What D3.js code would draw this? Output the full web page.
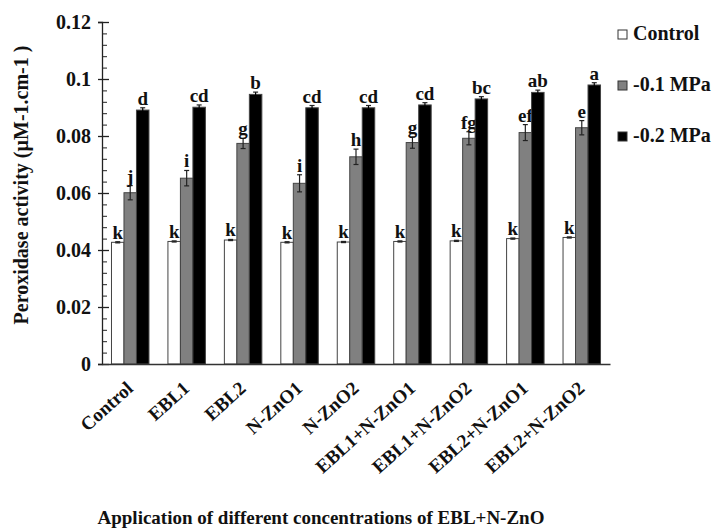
<!DOCTYPE html>
<html>
<head>
<meta charset="utf-8">
<script src="https://cdn.jsdelivr.net/npm/d3@7"></script>
<style>
  body { margin: 0; background: #fff; }
  svg { font-family: "Liberation Serif", "Times New Roman", serif; font-weight: bold; }
</style>
</head>
<body>
<svg id="chart" width="713" height="530"></svg>
<script>
(function () {
    // data
    const treatments = ["Control", "EBL1", "EBL2", "N-ZnO1", "N-ZnO2",
        "EBL1+N-ZnO1", "EBL1+N-ZnO2", "EBL2+N-ZnO1", "EBL2+N-ZnO2"]
    const series = ["Control", "-0.1 MPa", "-0.2 MPa"]
    const controlVals = [0.0427, 0.0430, 0.0435, 0.0427, 0.0428, 0.0430, 0.0432, 0.0440, 0.0444]
    const mpa01Vals = [0.0601, 0.0652, 0.0774, 0.0634, 0.0727, 0.0777, 0.0792, 0.0812, 0.0829]
    const mpa02Vals = [0.0891, 0.0901, 0.0946, 0.0899, 0.0899, 0.0909, 0.0930, 0.0953, 0.0979]
    const controlErr = [0.0002, 0.0002, 0.0002, 0.0002, 0.0002, 0.0002, 0.0002, 0.0002, 0.0002]
    const mpa01Err = [0.0025, 0.0027, 0.0018, 0.0030, 0.0027, 0.0020, 0.0023, 0.0028, 0.0025]
    const mpa02Err = [0.0008, 0.0008, 0.0008, 0.0008, 0.0008, 0.0008, 0.0008, 0.0008, 0.0008]
    const controlLetters = ["k", "k", "k", "k", "k", "k", "k", "k", "k"]
    const mpa01Letters = ["j", "i", "g", "i", "h", "g", "fg", "ef", "e"]
    const mpa02Letters = ["d", "cd", "b", "cd", "cd", "cd", "bc", "ab", "a"]
    const yTicks = [0, 0.02, 0.04, 0.06, 0.08, 0.1, 0.12]

    const vals = [controlVals, mpa01Vals, mpa02Vals]
    const errs = [controlErr, mpa01Err, mpa02Err]
    const letters = [controlLetters, mpa01Letters, mpa02Letters]
    const fills = ["#ffffff", "#808080", "#000000"]

    // flatten into one row per bar
    const rows = []
    treatments.forEach((t, i) => {
        series.forEach((s, j) => {
            rows.push({ t: t, s: s, v: vals[j][i], e: errs[j][i], l: letters[j][i], c: fills[j] })
        })
    })

    const svg = d3.select("#chart")
    const left = 102, right = 610, top = 22, bottom = 364

    var x = d3.scaleBand()
        .domain(treatments)
        .range([left, right])
        .paddingInner(0.336)
        .paddingOuter(0.168)

    var xs = d3.scaleBand()
        .domain(series)
        .range([0, x.bandwidth()])

    var y = d3.scaleLinear()
        .domain([0, 0.12])
        .range([bottom, top])

    // minor ticks (inside)
    svg.append("g")
        .attr("transform", `translate(${left},0)`)
        .call(d3.axisRight(y).tickValues(d3.range(0, 0.1201, 0.004)).tickSize(5).tickFormat(""))
        .call((g) => g.select(".domain").remove())
        .call((g) => g.selectAll("line").attr("stroke", "#222"))

    // y axis with major ticks crossing
    const yAxis = svg.append("g")
        .attr("transform", `translate(${left},0)`)
        .call(d3.axisLeft(y).tickValues(yTicks).tickSize(4).tickPadding(7)
            .tickFormat((d) => d === 0 ? "0" : String(+d.toFixed(2))))
    yAxis.select(".domain").attr("stroke", "#222").attr("stroke-width", 1.3)
    yAxis.selectAll(".tick line").attr("x2", -4).attr("x1", 7).attr("stroke", "#222").attr("stroke-width", 1.3)
    yAxis.selectAll("text")
        .attr("font-family", "Liberation Serif")
        .attr("font-weight", "bold")
        .attr("font-size", 20)
        .attr("fill", "#111")

    // bars
    const bars = svg.append("g")
        .selectAll("g")
        .data(rows)
        .join("g")
        .attr("transform", (d) => `translate(${x(d.t) + xs(d.s)},0)`)

    bars.append("rect")
        .attr("x", 0)
        .attr("y", (d) => y(d.v))
        .attr("width", xs.bandwidth())
        .attr("height", (d) => bottom - y(d.v))
        .attr("fill", (d) => d.c)
        .attr("stroke", "#444")
        .attr("stroke-width", 1)

    // error bars
    const w = xs.bandwidth()
    bars.append("line")
        .attr("x1", w / 2).attr("x2", w / 2)
        .attr("y1", (d) => y(d.v - d.e)).attr("y2", (d) => y(d.v + d.e))
        .attr("stroke", (d) => d.c === "#000000" ? "#000" : "#222")
        .attr("stroke-width", 1.2)
    bars.append("line")
        .attr("x1", w / 2 - 2.5).attr("x2", w / 2 + 2.5)
        .attr("y1", (d) => y(d.v + d.e)).attr("y2", (d) => y(d.v + d.e))
        .attr("stroke", "#222")
        .attr("stroke-width", 1.2)
    bars.append("line")
        .attr("x1", w / 2 - 2.5).attr("x2", w / 2 + 2.5)
        .attr("y1", (d) => y(d.v - d.e)).attr("y2", (d) => y(d.v - d.e))
        .attr("stroke", (d) => d.c === "#000000" ? "#000" : "#222")
        .attr("stroke-width", 1.2)

    // significance letters
    bars.append("text")
        .attr("x", w / 2)
        .attr("y", (d) => y(d.v + d.e) - 3)
        .attr("text-anchor", "middle")
        .attr("font-size", 19)
        .attr("fill", "#111")
        .text((d) => d.l)

    // x axis
    const xAxis = svg.append("g")
        .attr("transform", `translate(0,${bottom})`)
        .call(d3.axisBottom(x).tickSize(0).tickPadding(0))
    xAxis.select(".domain").attr("stroke", "#333").attr("stroke-width", 1.5)
    xAxis.selectAll("text")
        .attr("font-family", "Liberation Serif")
        .attr("font-weight", "bold")
        .attr("font-size", 19)
        .attr("fill", "#111")
        .attr("text-anchor", "end")
        .attr("dy", 0)
        .attr("transform", "translate(4,26) rotate(-42)")

    // axis titles
    svg.append("text")
        .attr("transform", `translate(28,185) rotate(-90)`)
        .attr("text-anchor", "middle")
        .attr("font-size", 20)
        .attr("fill", "#111")
        .text("Peroxidase activity (µM-1.cm-1 )")

    svg.append("text")
        .attr("x", 321)
        .attr("y", 524)
        .attr("text-anchor", "middle")
        .attr("font-size", 19)
        .attr("fill", "#111")
        .text("Application of different concentrations of EBL+N-ZnO")

    // legend
    const legend = svg.append("g")
        .selectAll("g")
        .data(series)
        .join("g")
        .attr("transform", (d, i) => `translate(618,${30 + i * 51})`)
    legend.append("rect")
        .attr("width", 9).attr("height", 9)
        .attr("fill", (d, i) => fills[i])
        .attr("stroke", "#333")
    legend.append("text")
        .attr("x", 15)
        .attr("y", 10)
        .attr("font-size", 20)
        .attr("fill", "#111")
        .text((d) => d)
})();
</script>
</body>
</html>
